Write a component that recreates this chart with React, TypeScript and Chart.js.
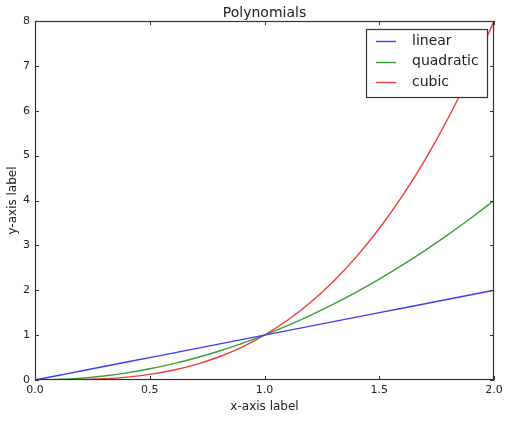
import React, { useEffect, useRef } from "react";
import { Chart, registerables } from "chart.js";

Chart.register(...registerables);

const xValues = [0, 0.1, 0.2, 0.3, 0.4, 0.5, 0.6, 0.7, 0.8, 0.9, 1.0, 1.1, 1.2, 1.3, 1.4, 1.5, 1.6, 1.7, 1.8, 1.9, 2.0];
const linearValues = [0, 0.1, 0.2, 0.3, 0.4, 0.5, 0.6, 0.7, 0.8, 0.9, 1.0, 1.1, 1.2, 1.3, 1.4, 1.5, 1.6, 1.7, 1.8, 1.9, 2.0];
const quadraticValues = [0, 0.01, 0.04, 0.09, 0.16, 0.25, 0.36, 0.49, 0.64, 0.81, 1.0, 1.21, 1.44, 1.69, 1.96, 2.25, 2.56, 2.89, 3.24, 3.61, 4.0];
const cubicValues = [0, 0.001, 0.008, 0.027, 0.064, 0.125, 0.216, 0.343, 0.512, 0.729, 1.0, 1.331, 1.728, 2.197, 2.744, 3.375, 4.096, 4.913, 5.832, 6.859, 8.0];

const seriesNames = ["linear", "quadratic", "cubic"];
const seriesColors = ["#3c3cf0", "#3c9c3c", "#f03c3c"];
const xTicks = [0, 0.5, 1.0, 1.5, 2.0];
const xTickLabels = ["0.0", "0.5", "1.0", "1.5", "2.0"];
const yTicks = [0, 1, 2, 3, 4, 5, 6, 7, 8];
const yTickLabels = ["0", "1", "2", "3", "4", "5", "6", "7", "8"];
const titleText = "Polynomials";
const xAxisLabel = "x-axis label";
const yAxisLabel = "y-axis label";

const FONT = "'DejaVu Sans', sans-serif";
const INK = "#222";

const decorPlugin = {
  id: "decor",
  afterDatasetsDraw(chart: any) {
    const ctx = chart.ctx as CanvasRenderingContext2D;
    const { left, right, top, bottom } = chart.chartArea;
    const xs = chart.scales.x;
    const ys = chart.scales.y;
    ctx.save();
    // frame
    ctx.strokeStyle = "#333";
    ctx.lineWidth = 1.2;
    ctx.strokeRect(left + 0.5, top + 0.5, right - left - 1, bottom - top - 1);
    // ticks
    const tl = 4;
    ctx.lineWidth = 1;
    ctx.beginPath();
    xTicks.forEach((v) => {
      const px = Math.round(xs.getPixelForValue(v)) + 0.5;
      ctx.moveTo(px, bottom);
      ctx.lineTo(px, bottom - tl);
      ctx.moveTo(px, top);
      ctx.lineTo(px, top + tl);
    });
    yTicks.forEach((v) => {
      const py = Math.round(ys.getPixelForValue(v)) + 0.5;
      ctx.moveTo(left, py);
      ctx.lineTo(left + tl, py);
      ctx.moveTo(right, py);
      ctx.lineTo(right - tl, py);
    });
    ctx.stroke();
    // tick labels
    ctx.fillStyle = INK;
    ctx.font = `11px ${FONT}`;
    ctx.textAlign = "center";
    ctx.textBaseline = "alphabetic";
    xTicks.forEach((v, i) => {
      ctx.fillText(xTickLabels[i], xs.getPixelForValue(v), bottom + 13);
    });
    ctx.textAlign = "right";
    ctx.textBaseline = "middle";
    yTicks.forEach((v, i) => {
      ctx.fillText(yTickLabels[i], left - 5, ys.getPixelForValue(v));
    });
    // axis titles
    ctx.font = `12px ${FONT}`;
    ctx.textAlign = "center";
    ctx.textBaseline = "alphabetic";
    ctx.fillText(xAxisLabel, (left + right) / 2, bottom + 30);
    ctx.save();
    ctx.translate(16, (top + bottom) / 2);
    ctx.rotate(-Math.PI / 2);
    ctx.fillText(yAxisLabel, 0, 0);
    ctx.restore();
    // title
    ctx.font = `14px ${FONT}`;
    ctx.fillText(titleText, (left + right) / 2, top - 4);
    // legend
    const lx = 366.5, ly = 29.5, lw = 121, lh = 68;
    ctx.fillStyle = "#fff";
    ctx.fillRect(lx, ly, lw, lh);
    ctx.strokeStyle = "#333";
    ctx.lineWidth = 1.2;
    ctx.strokeRect(lx, ly, lw, lh);
    ctx.font = `14px ${FONT}`;
    ctx.textAlign = "left";
    ctx.textBaseline = "middle";
    ctx.lineWidth = 1.4;
    seriesNames.forEach((name, i) => {
      const y = 41 + i * 20.7;
      ctx.strokeStyle = seriesColors[i];
      ctx.beginPath();
      ctx.moveTo(376, Math.round(y) + 0.5);
      ctx.lineTo(396, Math.round(y) + 0.5);
      ctx.stroke();
      ctx.fillStyle = INK;
      ctx.fillText(name, 412, y);
    });
    ctx.restore();
  },
};

export default function App() {
  const ref = useRef<HTMLCanvasElement>(null);
  useEffect(() => {
    const mk = (vals: number[]) => xValues.map((x, i) => ({ x, y: vals[i] }));
    const all = [linearValues, quadraticValues, cubicValues];
    const chart = new Chart(ref.current!, {
      type: "line",
      data: {
        datasets: all.map((vals, i) => ({
          label: seriesNames[i],
          data: mk(vals),
          borderColor: seriesColors[i],
          backgroundColor: seriesColors[i],
          borderWidth: 1.4,
          pointRadius: 0,
          cubicInterpolationMode: "monotone" as const,
          fill: false,
        })),
      },
      options: {
        responsive: false,
        devicePixelRatio: 1,
        animation: false,
        layout: { padding: { left: 35, top: 21, right: 12, bottom: 42 } },
        plugins: { legend: { display: false }, title: { display: false }, tooltip: { enabled: false } },
        scales: {
          x: { type: "linear", min: 0, max: 2, display: false },
          y: { type: "linear", min: 0, max: 8, display: false },
        },
      },
      plugins: [decorPlugin],
    });
    return () => chart.destroy();
  }, []);
  return (
    <div style={{ position: "absolute", left: 0, top: 0, width: 506, height: 422 }}>
      <canvas ref={ref} width={506} height={422} />
    </div>
  );
}
